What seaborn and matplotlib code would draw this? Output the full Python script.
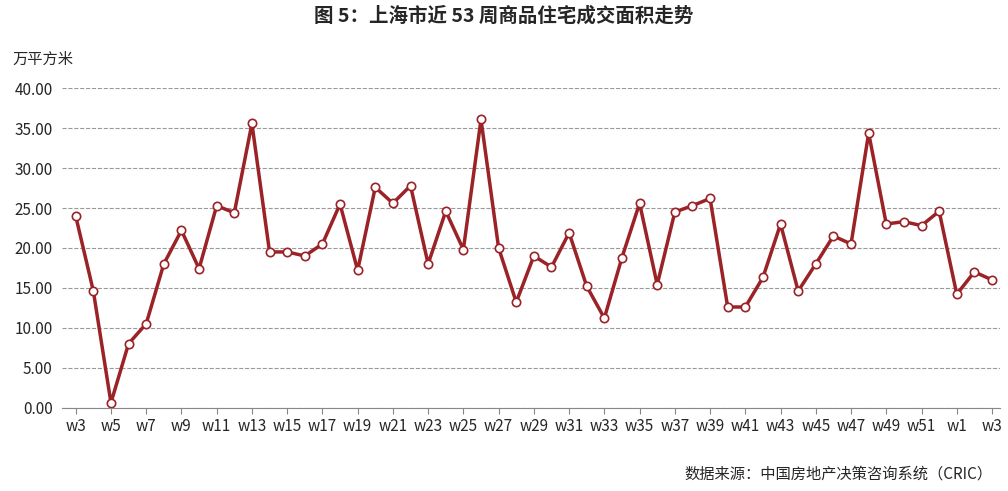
import matplotlib
matplotlib.use("Agg")
import matplotlib.pyplot as plt
import seaborn as sns
import pandas as pd

weeks = [f"w{i}" for i in range(3, 53)] + ["w1", "w2", "w3"]
values = [24.0, 14.6, 0.6, 8.0, 10.5, 18.0, 22.2, 17.4, 25.3, 24.4, 35.6, 19.5, 19.5, 19.0,
          20.5, 25.5, 17.2, 27.6, 25.6, 27.8, 18.0, 24.6, 19.8, 36.1, 20.0, 13.2, 19.0, 17.6,
          21.9, 15.2, 11.2, 18.8, 25.6, 15.4, 24.5, 25.3, 26.2, 12.6, 12.6, 16.3, 23.0, 14.6,
          18.0, 21.5, 20.5, 34.4, 23.0, 23.3, 22.8, 24.6, 14.2, 17.0, 16.0]
yticks = [0, 5, 10, 15, 20, 25, 30, 35, 40]

sns.set_style("white")
plt.rcParams['font.family'] = ['Noto Sans CJK SC', 'DejaVu Sans']

df = pd.DataFrame({"x": range(len(values)), "v": values})
fig = plt.figure(figsize=(10.08, 4.91), dpi=100)
ax = fig.add_axes([0.062, 0.17, 0.93, 0.65])
sns.lineplot(data=df, x="x", y="v", ax=ax, color="#9b2226", linewidth=2.5,
             marker="o", markersize=6, markerfacecolor="white", markeredgecolor="#9b2226",
             markeredgewidth=1.2)
ax.set_ylim(0, 40)
ax.set_xlim(-0.75, len(values) - 1 + 0.45)
ax.set_yticks(yticks)
ax.set_yticklabels([f"{t:.2f}" for t in yticks], fontsize=11)
ax.set_xticks(range(0, len(values), 2))
ax.set_xticklabels(weeks[::2], fontsize=11)
ax.yaxis.grid(True, linestyle="--", color="#999999", linewidth=0.8)
for s in ["top", "right", "left"]:
    ax.spines[s].set_visible(False)
ax.spines["bottom"].set_color("#888888")
ax.tick_params(axis="x", length=4, color="#888888", direction="out", bottom=True)
ax.set_xlabel("")
ax.set_ylabel("")
fig.text(0.5, 0.955, "图 5：上海市近 53 周商品住宅成交面积走势", ha="center", fontsize=14, fontweight="bold")
fig.text(0.012, 0.87, "万平方米", fontsize=11)
fig.text(0.985, 0.025, "数据来源：中国房地产决策咨询系统（CRIC）", ha="right", fontsize=11)
fig.savefig("out.png", dpi=100)
